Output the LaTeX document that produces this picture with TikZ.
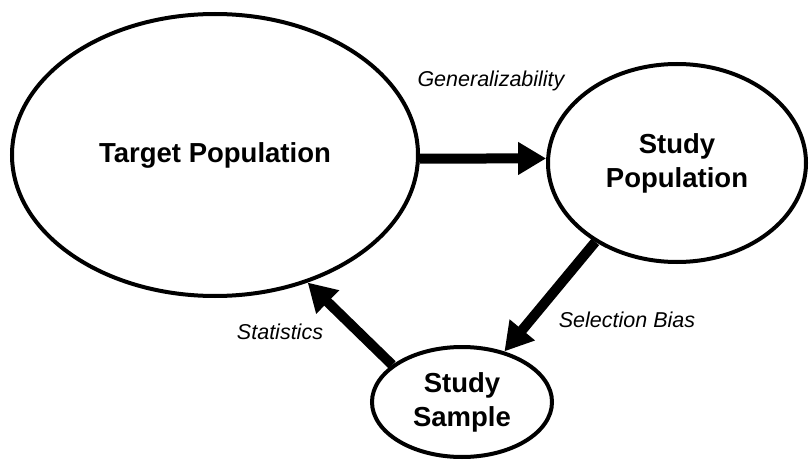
\documentclass[tikz,border=0pt]{standalone}
\usepackage{fontspec}
\setmainfont{Liberation Sans}
\usetikzlibrary{shapes.geometric,arrows.meta}
\begin{document}
\begin{tikzpicture}[x=1pt,y=-1pt,
  popnode/.style={draw,ellipse,line width=4pt,inner sep=0pt,align=center,
    font=\fontsize{27.5}{34}\selectfont\bfseries},
  flowarrow/.style={line width=10pt,-{Triangle[length=28pt,width=31pt]}},
  arrlabel/.style={font=\fontsize{21.5}{26}\selectfont\itshape}]
\useasboundingbox (0,0) rectangle (809,460);
\node[popnode,minimum width=406pt,minimum height=282pt] (tp) at (215,155) {Target Population};
\node[popnode,minimum width=258pt,minimum height=198pt] (sp) at (677,163) {Study\\Population};
\node[popnode,minimum width=180pt,minimum height=110pt] (ss) at (462,402) {Study\\Sample};
\draw[flowarrow] (tp.-1) -- (sp.178);
\draw[flowarrow] (sp.224) -- (ss.50);
\draw[flowarrow] (ss.152) -- (tp.306);
\node[arrlabel] (lgen) at (491,81) {Generalizability};
\node[arrlabel] (lsel) at (627,320) {Selection Bias};
\node[arrlabel] (lsta) at (280,332) {Statistics};
\end{tikzpicture}
\end{document}
